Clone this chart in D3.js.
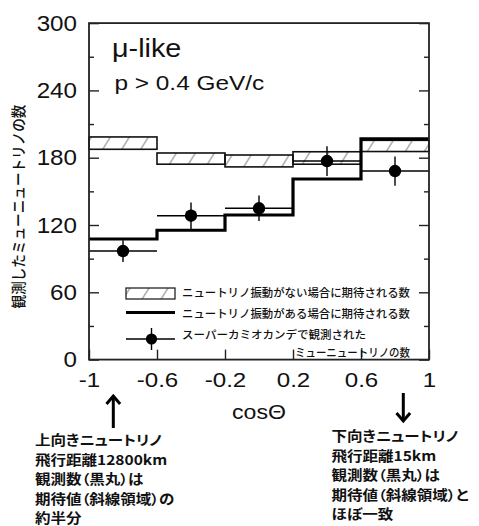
<!DOCTYPE html>
<html>
<head>
<meta charset="utf-8">
<script src="https://cdn.jsdelivr.net/npm/d3@7"></script>
<style>
  body { margin: 0; background: #fff; }
  svg { display: block; }
</style>
</head>
<body>
<svg width="479" height="526"></svg>
<script>
// data
const binEdges = [-1, -0.6, -0.2, 0.2, 0.6, 1];
const noOscLow = [187.5, 174.2, 171.8, 174.2, 185.5];
const noOscHigh = [198.5, 184.2, 182.4, 185.3, 195.5];
const oscExpected = [107.5, 115.3, 128.9, 161.0, 196.7];
const observed = [96.8, 128.3, 134.9, 177.0, 168.1];
const observedErr = [9.7, 11.8, 11.3, 13.3, 13.0];

const yTicks = [0, 60, 120, 180, 240, 300];
const yMinor = [30, 90, 150, 210, 270];
const xTicks = [-1, -0.6, -0.2, 0.2, 0.6, 1];

const titleText = "\u03bc-like";
const subText = "p > 0.4 GeV/c";
const xLabel = "cos\u0398";
const yLabel = "観測したミューニュートリノの数";
const legendLabels = [
  "ニュートリノ振動がない場合に期待される数",
  "ニュートリノ振動がある場合に期待される数",
  "スーパーカミオカンデで観測された",
  "ミューニュートリノの数"
];
const noteUp = ["上向きニュートリノ", "飛行距離12800km", "観測数（黒丸）は", "期待値（斜線領域）の", "約半分"];
const noteDown = ["下向きニュートリノ", "飛行距離15km", "観測数（黒丸）は", "期待値（斜線領域）と", "ほぼ一致"];

const svg = d3.select("svg");
const latin = "'Liberation Sans', Arial, sans-serif";
const jp = "'Noto Sans CJK JP', sans-serif";

const plot = { left: 89, right: 429, top: 23.1, bottom: 359.6 };
const x = d3.scaleLinear().domain([-1, 1]).range([plot.left, plot.right]);
const y = d3.scaleLinear().domain([0, 300]).range([plot.bottom, plot.top]);

//hatch pattern
const defs = svg.append("defs");
const pat = defs.append("pattern")
  .attr("id", "hatch")
  .attr("patternUnits", "userSpaceOnUse")
  .attr("width", 19).attr("height", 19)
  .attr("patternTransform", "skewX(-32)");
pat.append("line")
  .attr("x1", 6).attr("x2", 6).attr("y1", 0).attr("y2", 19)
  .attr("stroke", "#555").attr("stroke-width", 0.8);

const bins = d3.range(5).map(i => ({
  x0: binEdges[i], x1: binEdges[i + 1],
  lo: noOscLow[i], hi: noOscHigh[i],
  osc: oscExpected[i], obs: observed[i], err: observedErr[i]
}));

//no-oscillation boxes
svg.append("g").selectAll("rect")
  .data(bins)
  .join("rect")
    .attr("x", d => x(d.x0))
    .attr("y", d => y(d.hi))
    .attr("width", d => x(d.x1) - x(d.x0))
    .attr("height", d => y(d.lo) - y(d.hi))
    .attr("fill", "url(#hatch)")
    .attr("stroke", "#111")
    .attr("stroke-width", 1.6);

//oscillation expectation, step line
const stepPts = bins.map(d => [d.x0, d.osc]).concat([[1, oscExpected[4]]]);
svg.append("path")
  .datum(stepPts)
  .attr("d", d3.line().x(d => x(d[0])).y(d => y(d[1])).curve(d3.curveStepAfter))
  .attr("fill", "none")
  .attr("stroke", "#000")
  .attr("stroke-width", 3.2);

//observed points
const pts = svg.append("g");
pts.selectAll("line.h")
  .data(bins)
  .join("line")
    .attr("class", "h")
    .attr("x1", d => x(d.x0)).attr("x2", d => x(d.x1))
    .attr("y1", d => y(d.obs)).attr("y2", d => y(d.obs))
    .attr("stroke", "#000").attr("stroke-width", 1.4);
pts.selectAll("line.v")
  .data(bins)
  .join("line")
    .attr("class", "v")
    .attr("x1", d => x((d.x0 + d.x1) / 2)).attr("x2", d => x((d.x0 + d.x1) / 2))
    .attr("y1", d => y(d.obs + d.err)).attr("y2", d => y(d.obs - d.err))
    .attr("stroke", "#000").attr("stroke-width", 1.4);
pts.selectAll("circle")
  .data(bins)
  .join("circle")
    .attr("cx", d => x((d.x0 + d.x1) / 2))
    .attr("cy", d => y(d.obs))
    .attr("r", 6.2)
    .attr("fill", "#000");

//axes
function styleAxis(g) {
  g.select(".domain").remove();
  g.selectAll(".tick line").attr("stroke", "#222").attr("stroke-width", 1.4);
}
svg.append("g")
  .attr("transform", `translate(${plot.left},0)`)
  .call(d3.axisLeft(y).tickValues(yTicks).tickSize(-10).tickPadding(12))
  .call(styleAxis)
  .call(g => g.selectAll(".tick text")
    .attr("x", null)
    .attr("transform", "translate(-12,0) scale(1.1,1)")
    .attr("font-size", 22).attr("font-family", latin).attr("fill", "#111"));
svg.append("g")
  .attr("transform", `translate(${plot.left},0)`)
  .call(d3.axisLeft(y).tickValues(yMinor).tickSize(-5).tickFormat(""))
  .call(styleAxis);
svg.append("g")
  .attr("transform", `translate(${plot.right},0)`)
  .call(d3.axisRight(y).tickValues(yTicks).tickSize(-10).tickFormat(""))
  .call(styleAxis);
svg.append("g")
  .attr("transform", `translate(${plot.right},0)`)
  .call(d3.axisRight(y).tickValues(yMinor).tickSize(-5).tickFormat(""))
  .call(styleAxis);
svg.append("g")
  .attr("transform", `translate(0,${plot.bottom})`)
  .call(d3.axisBottom(x).tickValues(xTicks).tickSize(-10).tickPadding(13).tickFormat(d => String(d)))
  .call(styleAxis)
  .call(g => g.selectAll(".tick text")
    .attr("transform", "scale(1.15,1)")
    .attr("font-size", 21).attr("font-family", latin).attr("fill", "#111"));

//frame
svg.append("rect")
  .attr("x", plot.left).attr("y", plot.top)
  .attr("width", plot.right - plot.left)
  .attr("height", plot.bottom - plot.top)
  .attr("fill", "none")
  .attr("stroke", "#222")
  .attr("stroke-width", 1.8);

//titles
svg.append("text")
  .attr("transform", "translate(112,57) scale(1.15,1)")
  .attr("font-family", latin).attr("font-size", 25).attr("fill", "#111")
  .text(titleText);
svg.append("text")
  .attr("transform", "translate(114.5,90) scale(1.25,1)")
  .attr("font-family", latin).attr("font-size", 19.5).attr("fill", "#111")
  .text(subText);
svg.append("text")
  .attr("transform", "translate(259,419) scale(1.1,1)")
  .attr("text-anchor", "middle")
  .attr("font-family", latin).attr("font-size", 21).attr("fill", "#111")
  .text(xLabel);
svg.append("text")
  .attr("transform", "translate(23.5,206.5) scale(1.1,1) rotate(-90)")
  .attr("text-anchor", "middle")
  .attr("font-family", jp).attr("font-size", 13.6).attr("font-weight", 500).attr("fill", "#111")
  .text(yLabel);

//legend
const lg = svg.append("g");
lg.append("rect")
  .attr("x", 126).attr("y", 288).attr("width", 49).attr("height", 11)
  .attr("fill", "url(#hatch)").attr("stroke", "#111").attr("stroke-width", 1.2);
lg.append("line")
  .attr("x1", 126).attr("x2", 175).attr("y1", 312.5).attr("y2", 312.5)
  .attr("stroke", "#000").attr("stroke-width", 3.2);
lg.append("line")
  .attr("x1", 126).attr("x2", 175).attr("y1", 339).attr("y2", 339)
  .attr("stroke", "#000").attr("stroke-width", 1.4);
lg.append("line")
  .attr("x1", 151.5).attr("x2", 151.5).attr("y1", 328).attr("y2", 350)
  .attr("stroke", "#000").attr("stroke-width", 1.4);
lg.append("circle")
  .attr("cx", 151.5).attr("cy", 339).attr("r", 5.6).attr("fill", "#000");
const legendPos = [[182, 297, 228], [182, 318, 228], [182, 339, 184], [295, 357, 115]];
lg.selectAll("text")
  .data(legendLabels)
  .join("text")
    .attr("x", (d, i) => legendPos[i][0])
    .attr("y", (d, i) => legendPos[i][1])
    .attr("textLength", (d, i) => legendPos[i][2])
    .attr("lengthAdjust", "spacingAndGlyphs")
    .attr("font-family", jp).attr("font-size", 11.2).attr("font-weight", 500).attr("fill", "#111")
    .text(d => d);

//arrows
svg.append("line")
  .attr("x1", 113.3).attr("x2", 113.3).attr("y1", 428).attr("y2", 397)
  .attr("stroke", "#000").attr("stroke-width", 3);
svg.append("path")
  .attr("d", "M106.5,404 L113.3,396 L120.1,404")
  .attr("fill", "none").attr("stroke", "#000").attr("stroke-width", 3);
svg.append("line")
  .attr("x1", 403.3).attr("x2", 403.3).attr("y1", 393).attr("y2", 420)
  .attr("stroke", "#000").attr("stroke-width", 3);
svg.append("path")
  .attr("d", "M396.5,413 L403.3,421 L410.1,413")
  .attr("fill", "none").attr("stroke", "#000").attr("stroke-width", 3);

//notes
function note(lines, x0, y0) {
  svg.append("g").selectAll("text")
    .data(lines)
    .join("text")
      .attr("transform", (d, i) => `translate(${x0},${y0 + i * 19.5}) scale(1.15,1)`)
      .attr("font-family", jp).attr("font-size", 13.5).attr("font-weight", "bold")
      .style("font-feature-settings", "'palt'")
      .attr("fill", "#111")
      .text(d => d);
}
note(noteUp, 35, 445);
note(noteDown, 331.5, 441);
</script>
</body>
</html>
